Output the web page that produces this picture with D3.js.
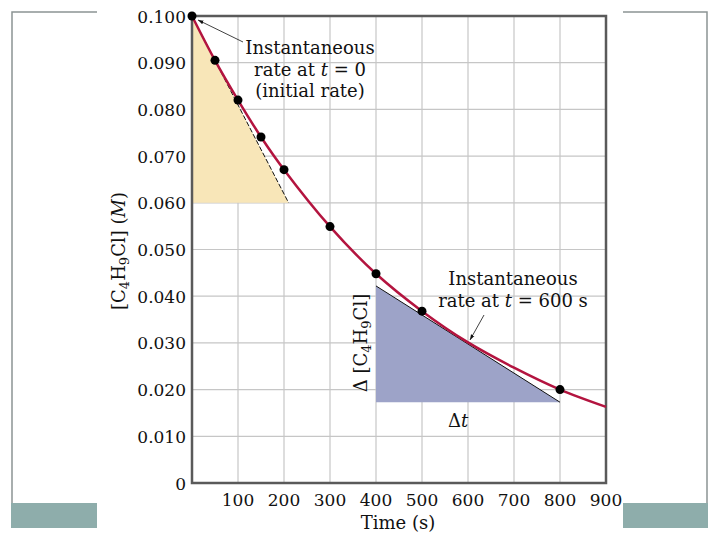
<!DOCTYPE html>
<html>
<head>
<meta charset="utf-8">
<script src="https://cdn.jsdelivr.net/npm/d3@7"></script>
<style>
  body { margin: 0; background: #fff; }
  text { font-family: "DejaVu Serif", "Liberation Serif", serif; fill: #111; }
</style>
</head>
<body>
<script>
// measured points, time (s) and [C4H9Cl] (M)
const times = [0, 50, 100, 150, 200, 300, 400, 500, 800];
const conc = [0.1000, 0.0905, 0.0820, 0.0741, 0.0671, 0.0549, 0.0448, 0.0368, 0.0200];

// smooth red curve
const curveTimes = [0, 50, 100, 150, 200, 300, 400, 500, 600, 700, 800, 900];
const curveConc = [0.1000, 0.0905, 0.0820, 0.0741, 0.0671, 0.0549, 0.0448, 0.0368, 0.0301, 0.0247, 0.0200, 0.0163];

// tangents
const tan0Times = [0, 210];
const tan0Conc = [0.100, 0.060];
const tan600Times = [400, 800];
const tan600Conc = [0.0422, 0.0173];

const xTicks = [100, 200, 300, 400, 500, 600, 700, 800, 900];
const yTicks = [0, 0.010, 0.020, 0.030, 0.040, 0.050, 0.060, 0.070, 0.080, 0.090, 0.100];

const width = 720, height = 540;

const svg = d3.select("body").append("svg")
  .attr("width", width)
  .attr("height", height);

// slide decoration
const deco = svg.append("g");
deco.append("path")
  .attr("d", "M97,12 H12 V528")
  .attr("fill", "none").attr("stroke", "#8c9494").attr("stroke-width", 1.5);
deco.append("path")
  .attr("d", "M623,12 H707 V503")
  .attr("fill", "none").attr("stroke", "#8c9494").attr("stroke-width", 1.5);
deco.append("rect").attr("x", 11).attr("y", 503).attr("width", 86).attr("height", 25).attr("fill", "#8eadab");
deco.append("rect").attr("x", 623).attr("y", 503).attr("width", 85).attr("height", 25).attr("fill", "#8eadab");

const x = d3.scaleLinear().domain([0, 900]).range([192, 606]);
const y = d3.scaleLinear().domain([0, 0.1]).range([483, 16]);

const plot = svg.append("g");

// grid
plot.append("g").selectAll("line").data(xTicks).join("line")
  .attr("x1", d => x(d)).attr("x2", d => x(d))
  .attr("y1", y(0)).attr("y2", y(0.1))
  .attr("stroke", "#c6c6c6").attr("stroke-width", 1.2);
plot.append("g").selectAll("line").data(yTicks).join("line")
  .attr("x1", x(0)).attr("x2", x(900))
  .attr("y1", d => y(d)).attr("y2", d => y(d))
  .attr("stroke", "#c6c6c6").attr("stroke-width", 1.2);

// shaded triangles
const tri = (ts, cs) => [[x(ts[0]), y(cs[0])], [x(ts[0]), y(cs[1])], [x(ts[1]), y(cs[1])]];
plot.append("polygon")
  .attr("points", tri(tan0Times, tan0Conc).join(" "))
  .attr("fill", "#f8e6b8");
plot.append("polygon")
  .attr("points", tri(tan600Times, tan600Conc).join(" "))
  .attr("fill", "#9da3c8");

// tangent lines
plot.append("line")
  .attr("x1", x(tan0Times[0])).attr("y1", y(tan0Conc[0]))
  .attr("x2", x(tan0Times[1])).attr("y2", y(tan0Conc[1]))
  .attr("stroke", "#111").attr("stroke-width", 1)
  .attr("stroke-dasharray", "5,2");
plot.append("line")
  .attr("x1", x(tan600Times[0])).attr("y1", y(tan600Conc[0]))
  .attr("x2", x(tan600Times[1])).attr("y2", y(tan600Conc[1]))
  .attr("stroke", "#111").attr("stroke-width", 1);

// frame
plot.append("rect")
  .attr("x", x(0)).attr("y", y(0.1))
  .attr("width", x(900) - x(0)).attr("height", y(0) - y(0.1))
  .attr("fill", "none").attr("stroke", "#5a5a5a").attr("stroke-width", 2.5);

// curve
const line = d3.line()
  .x((d, i) => x(curveTimes[i]))
  .y(d => y(d))
  .curve(d3.curveCatmullRom.alpha(0.5));
plot.append("path")
  .datum(curveConc)
  .attr("d", line)
  .attr("fill", "none")
  .attr("stroke", "#b3143f")
  .attr("stroke-width", 2.5);

// points
plot.append("g").selectAll("circle").data(conc).join("circle")
  .attr("cx", (d, i) => x(times[i]))
  .attr("cy", d => y(d))
  .attr("r", 4.5)
  .attr("fill", "#000");

// tick labels
svg.append("g").selectAll("text").data(xTicks).join("text")
  .attr("x", d => x(d)).attr("y", 506)
  .attr("text-anchor", "middle")
  .style("font-size", "17px")
  .text(d => d);
svg.append("g").selectAll("text").data(yTicks).join("text")
  .attr("x", 186).attr("y", d => y(d) + 6.5)
  .attr("text-anchor", "end")
  .style("font-size", "17px")
  .text(d => d === 0 ? "0" : d3.format(".3f")(d));

// axis titles
svg.append("text")
  .attr("x", 398).attr("y", 529)
  .attr("text-anchor", "middle")
  .style("font-size", "18px")
  .text("Time (s)");

function formula(sel, prefix) {
  sel.append("tspan").text(prefix + "[C");
  sel.append("tspan").attr("dy", 4).style("font-size", "13px").text("4");
  sel.append("tspan").attr("dy", -4).text("H");
  sel.append("tspan").attr("dy", 4).style("font-size", "13px").text("9");
  sel.append("tspan").attr("dy", -4).text("Cl]");
}

const yLab = svg.append("text")
  .attr("transform", "translate(125,251) rotate(-90)")
  .attr("text-anchor", "middle")
  .style("font-size", "18px");
formula(yLab, "");
yLab.append("tspan").text(" (");
yLab.append("tspan").style("font-style", "italic").text("M");
yLab.append("tspan").text(")");

const dLab = svg.append("text")
  .attr("transform", "translate(367,343) rotate(-90)")
  .attr("text-anchor", "middle")
  .style("font-size", "18px");
formula(dLab, "\u0394 ");

const dt = svg.append("text")
  .attr("x", 458).attr("y", 427)
  .attr("text-anchor", "middle")
  .style("font-size", "18px");
dt.append("tspan").text("\u0394");
dt.append("tspan").style("font-style", "italic").text("t");

// annotations
const ann1 = svg.append("g").attr("text-anchor", "middle").style("font-size", "18px");
ann1.append("text").attr("x", 310).attr("y", 54).text("Instantaneous");
const a1 = ann1.append("text").attr("x", 310).attr("y", 76);
a1.append("tspan").text("rate at ");
a1.append("tspan").style("font-style", "italic").text("t");
a1.append("tspan").text(" = 0");
ann1.append("text").attr("x", 310).attr("y", 97).text("(initial rate)");

const ann2 = svg.append("g").attr("text-anchor", "middle").style("font-size", "18px");
ann2.append("text").attr("x", 513).attr("y", 285).text("Instantaneous");
const a2 = ann2.append("text").attr("x", 513).attr("y", 307);
a2.append("tspan").text("rate at ");
a2.append("tspan").style("font-style", "italic").text("t");
a2.append("tspan").text(" = 600 s");

// arrows
svg.append("defs").append("marker")
  .attr("id", "arr")
  .attr("viewBox", "0 0 10 10")
  .attr("refX", 10).attr("refY", 5)
  .attr("markerWidth", 7).attr("markerHeight", 7)
  .attr("orient", "auto")
  .append("path")
  .attr("d", "M0,1.5 L10,5 L0,8.5 Z")
  .attr("fill", "#111");

svg.append("line")
  .attr("x1", 243).attr("y1", 42).attr("x2", 198).attr("y2", 20)
  .attr("stroke", "#111").attr("stroke-width", 0.8)
  .attr("marker-end", "url(#arr)");
svg.append("line")
  .attr("x1", 484).attr("y1", 315).attr("x2", 470).attr("y2", 340)
  .attr("stroke", "#111").attr("stroke-width", 0.8)
  .attr("marker-end", "url(#arr)");
</script>
</body>
</html>
